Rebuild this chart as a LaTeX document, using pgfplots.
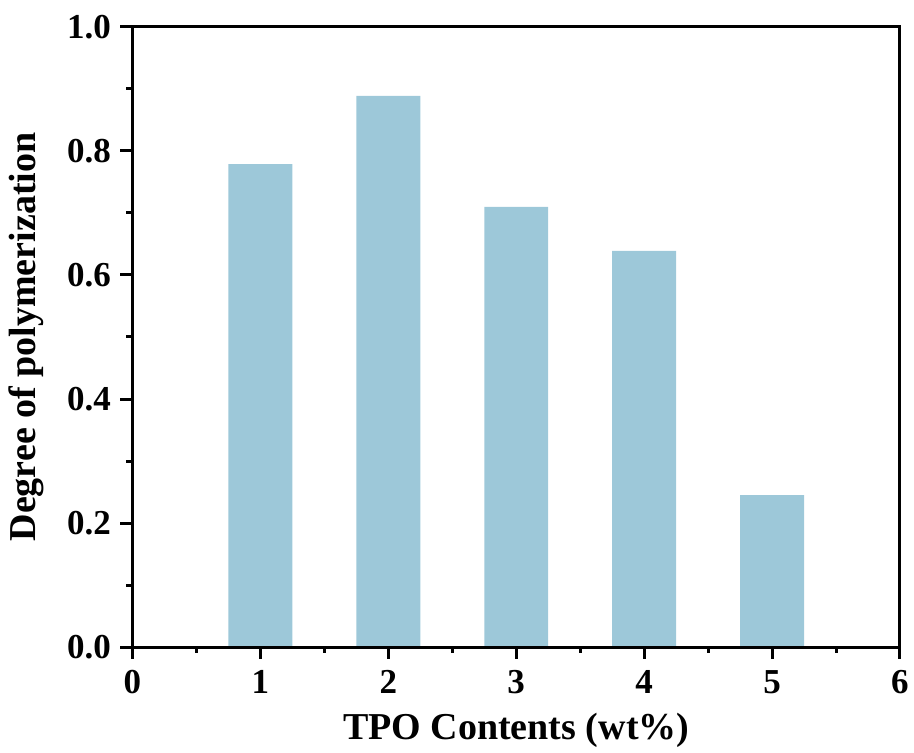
\documentclass[border=0pt]{standalone}
\usepackage{pgfplots}
\pgfplotsset{compat=1.18}
\usepackage{fontspec}
\setmainfont{Liberation Serif}
\definecolor{barblue}{RGB}{157,200,217}
\begin{document}
\begin{tikzpicture}
\begin{axis}[
  name=ax,
  at={(0pt,0pt)}, anchor=south west,
  scale only axis,
  width=767.5pt, height=620pt,
  xmin=0, xmax=6, ymin=0, ymax=1.0,
  xtick={0,1,2,3,4,5,6},
  ytick={0,0.2,0.4,0.6,0.8,1.0},
  minor xtick={0.5,1.5,2.5,3.5,4.5,5.5},
  minor ytick={0.1,0.3,0.5,0.7,0.9},
  tick pos=left,
  tick align=outside,
  major tick length=12pt,
  minor tick length=6pt,
  every tick/.style={black, line width=3pt},
  axis line style={line width=3pt},
  /pgf/number format/assume math mode=true,
  /pgf/number format/fixed,
  /pgf/number format/fixed zerofill,
  yticklabel style={/pgf/number format/precision=1, font=\fontsize{35}{40}\selectfont\bfseries, xshift=-6pt},
  xticklabel style={font=\fontsize{35}{40}\selectfont\bfseries, yshift=-8pt},
  xticklabel={\pgfmathprintnumber[fixed,precision=0]{\tick}},
  xlabel={TPO Contents (wt\%)},
  ylabel={Degree of polymerization},
  label style={font=\fontsize{38}{44}\selectfont\bfseries},
  xlabel style={yshift=-12pt},
  ylabel style={yshift=16pt},
  axis on top,
]
\addplot[ybar, bar width=0.5, fill=barblue, draw=none] coordinates {
  (1,0.779) (2,0.889) (3,0.710) (4,0.639) (5,0.245)
};
\end{axis}
\pgfresetboundingbox
\path (-132.5pt,-106pt) rectangle (781.5pt,647pt);
\end{tikzpicture}
\end{document}
